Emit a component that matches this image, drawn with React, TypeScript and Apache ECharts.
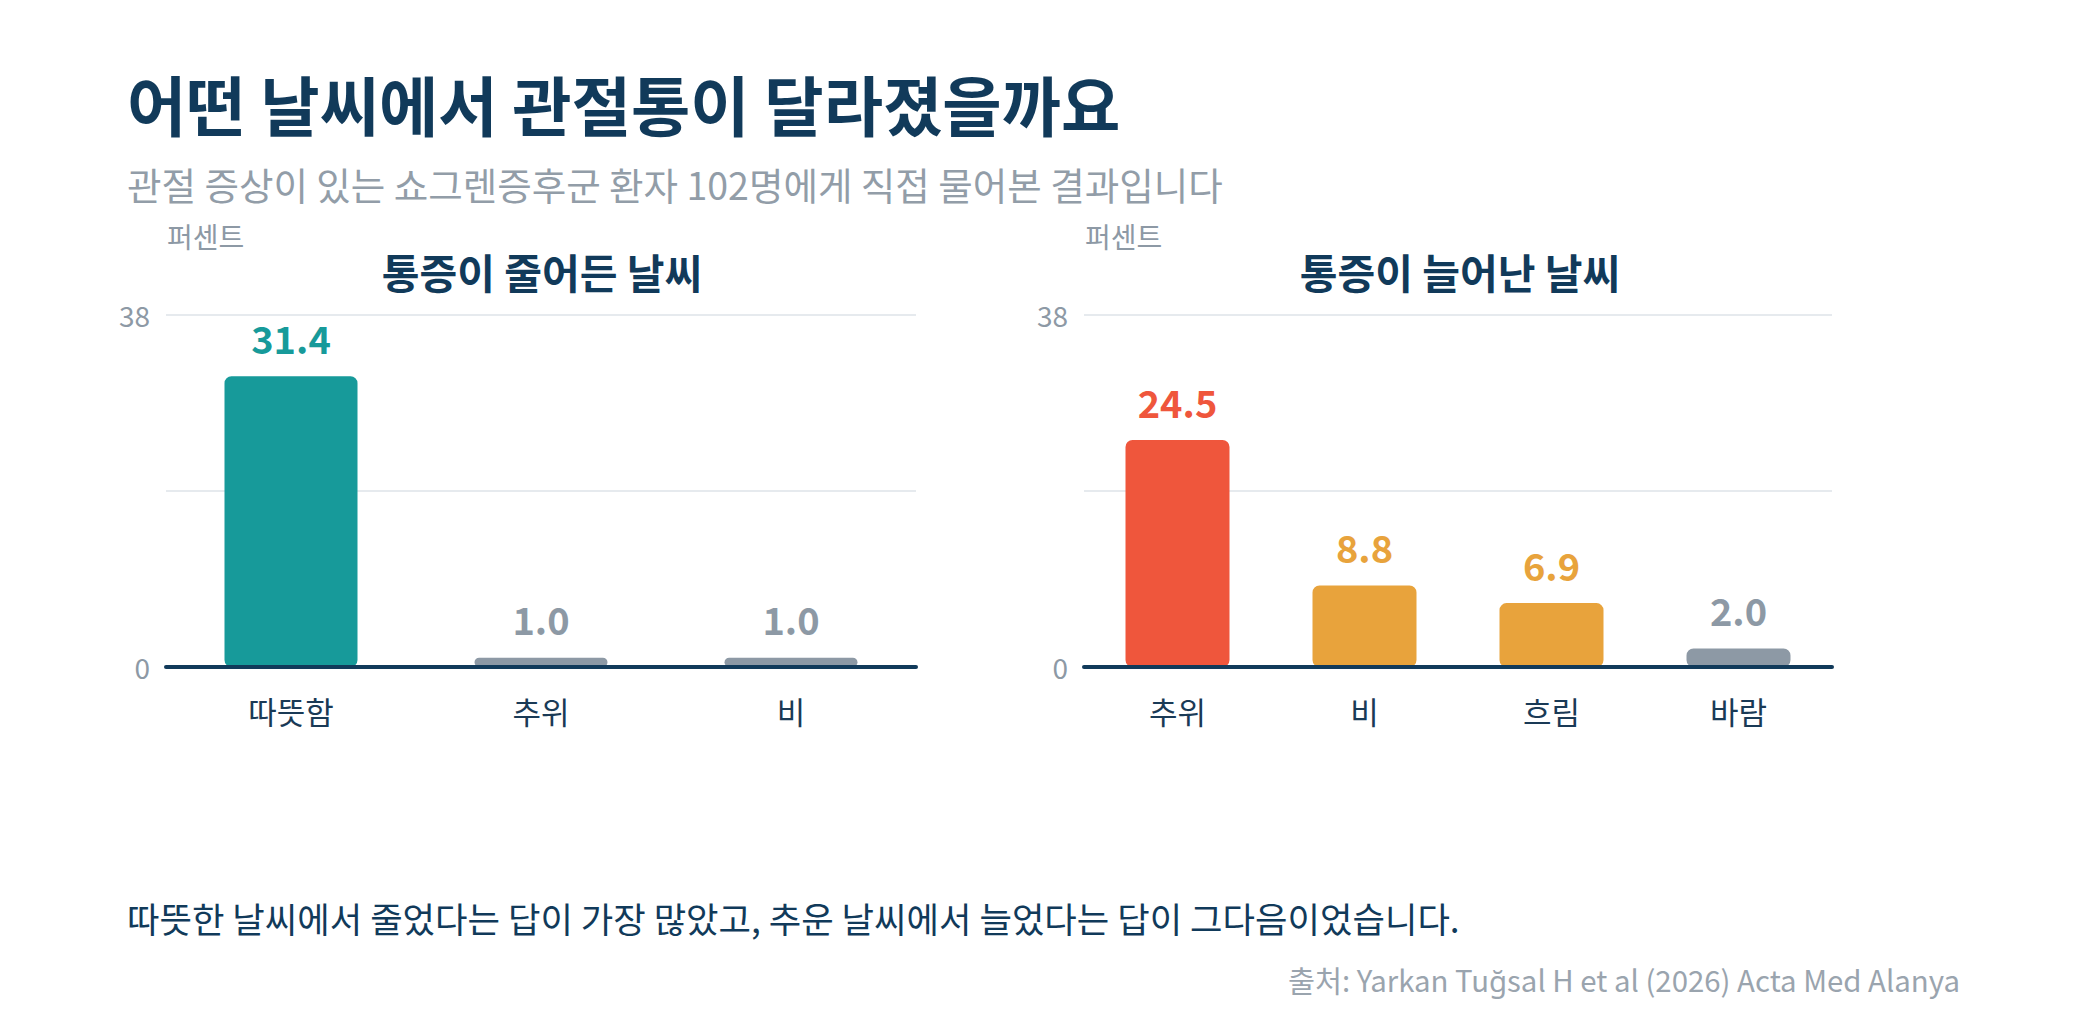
import { useEffect, useRef } from 'react';
import * as echarts from 'echarts';

const TITLE = '어떤 날씨에서 관절통이 달라졌을까요';
const SUBTITLE = '관절 증상이 있는 쇼그렌증후군 환자 102명에게 직접 물어본 결과입니다';
const NOTE = '따뜻한 날씨에서 줄었다는 답이 가장 많았고, 추운 날씨에서 늘었다는 답이 그다음이었습니다.';
const SOURCE = '출처: Yarkan Tuğsal H et al (2026) Acta Med Alanya';
const UNIT = '퍼센트';

const decreasedTitle = '통증이 줄어든 날씨';
const decreasedCats = ['따뜻함', '추위', '비'];
const decreasedVals = [31.4, 1.0, 1.0];

const increasedTitle = '통증이 늘어난 날씨';
const increasedCats = ['추위', '비', '흐림', '바람'];
const increasedVals = [24.5, 8.8, 6.9, 2.0];

const yMax = 38;
const yStep = 19;

const NAVY = '#113a5a';
const GRAY = '#8d99a5';
const decreasedColors = ['#179a9a', GRAY, GRAY];
const increasedColors = ['#ef563c', '#e8a33c', '#e8a33c', GRAY];

const FONT = '"Noto Sans CJK KR", "Noto Sans", sans-serif';

function text(x: number, y: number, t: string, size: number, fill: string, opts: any = {}) {
  return {
    type: 'text',
    x,
    y,
    silent: true,
    style: {
      text: t,
      fill,
      fontSize: size,
      fontFamily: FONT,
      fontWeight: opts.weight ?? 'normal',
      textAlign: opts.align ?? 'left',
      textVerticalAlign: 'middle',
    },
  };
}

function bars(vals: number[], colors: string[], width: number, idx: number) {
  return {
    type: 'bar',
    xAxisIndex: idx,
    yAxisIndex: idx,
    barWidth: width,
    data: vals.map((v, i) => ({
      value: v,
      itemStyle: { color: colors[i], borderRadius: 7 },
      label: { color: colors[i] },
    })),
    label: {
      show: true,
      position: 'top',
      distance: 20,
      fontSize: 38,
      fontWeight: 'bold',
      fontFamily: FONT,
      formatter: (p: any) => Number(p.value).toFixed(1),
    },
  };
}

function xAxis(cats: string[], idx: number) {
  return {
    type: 'category',
    gridIndex: idx,
    data: cats,
    axisTick: { show: false },
    axisLine: { lineStyle: { color: NAVY, width: 4 } },
    axisLabel: { color: '#1a3a56', fontSize: 31, fontFamily: FONT, margin: 28 },
    z: 5,
  };
}

function yAxis(idx: number) {
  return {
    type: 'value',
    gridIndex: idx,
    min: 0,
    max: yMax,
    interval: yStep,
    axisLine: { show: false },
    axisTick: { show: false },
    splitLine: { lineStyle: { color: '#e6eaee', width: 2 } },
    axisLabel: {
      color: GRAY,
      fontSize: 28,
      fontFamily: FONT,
      margin: 16,
      formatter: (v: number) => (v === 0 || v === yMax ? String(v) : ''),
    },
  };
}

export default function App() {
  const ref = useRef<HTMLDivElement>(null);

  useEffect(() => {
    document.body.style.margin = '0';
    if (!ref.current) return;
    const chart = echarts.init(ref.current, undefined, { renderer: 'svg' });
    chart.setOption({
      animation: false,
      backgroundColor: '#ffffff',
      textStyle: { fontFamily: FONT },
      grid: [
        { left: 166, top: 315, width: 750, height: 352 },
        { left: 1084, top: 315, width: 748, height: 352 },
      ],
      xAxis: [xAxis(decreasedCats, 0), xAxis(increasedCats, 1)],
      yAxis: [yAxis(0), yAxis(1)],
      series: [bars(decreasedVals, decreasedColors, 133, 0), bars(increasedVals, increasedColors, 104, 1)],
      graphic: [
        text(127, 103, TITLE, 64.5, NAVY, { weight: 'bold' }),
        text(127, 183, SUBTITLE, 37.5, '#929da8'),
        text(167, 236, UNIT, 28, GRAY),
        text(1085, 236, UNIT, 28, GRAY),
        text(542, 271, decreasedTitle, 41, NAVY, { weight: 'bold', align: 'center' }),
        text(1460, 271, increasedTitle, 41, NAVY, { weight: 'bold', align: 'center' }),
        text(127, 917, NOTE, 35.3, NAVY),
        text(1960, 979, SOURCE, 29.4, '#9aa4ae', { align: 'right' }),
      ],
    });
    return () => chart.dispose();
  }, []);

  return <div ref={ref} style={{ width: 2083, height: 1021 }} />;
}
